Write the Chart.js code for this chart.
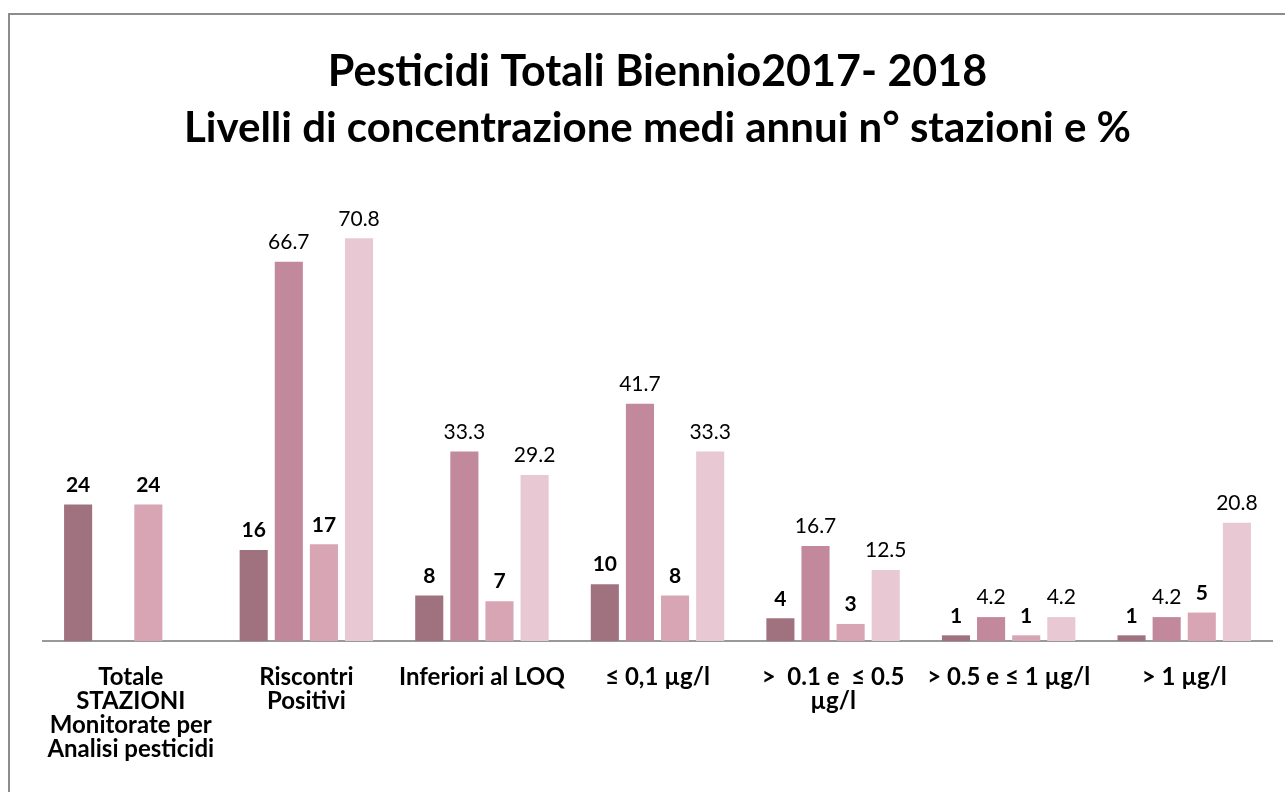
<!DOCTYPE html>
<html lang="it">
<head>
<meta charset="UTF-8">
<title>Pesticidi Totali Biennio 2017-2018</title>
<script src="https://cdn.jsdelivr.net/npm/chart.js"></script>
<style>
  html, body { margin: 0; padding: 0; background: #fff; }
  #wrap { position: relative; width: 1285px; height: 792px; overflow: hidden; }
  #frame { position: absolute; left: 8px; top: 13px; width: 1300px; height: 800px;
           border-left: 2px solid #8c8c8c; border-top: 2px solid #8c8c8c; }
  canvas { position: absolute; left: 0; top: 0; }
</style>
</head>
<body>
<div id="wrap">
  <div id="frame"></div>
  <canvas id="chart" width="1285" height="792"></canvas>
</div>
<script>
const categories = [
  ['Totale', 'STAZIONI', 'Monitorate per', 'Analisi pesticidi'],
  ['Riscontri', 'Positivi'],
  'Inferiori al LOQ',
  '≤ 0,1 µg/l',
  ['>  0.1 e  ≤ 0.5', 'µg/l'],
  '> 0.5 e ≤ 1 µg/l',
  '> 1 µg/l'
];
const stazioni2017 = [24, 16, 8, 10, 4, 1, 1];
const perc2017 = [null, 66.7, 33.3, 41.7, 16.7, 4.2, 4.2];
const stazioni2018 = [24, 17, 7, 8, 3, 1, 5];
const perc2018 = [null, 70.8, 29.2, 33.3, 12.5, 4.2, 20.8];

const FONT = "Lato, 'Open Sans', sans-serif";

// draws the value above each bar; station counts bold, percentages normal
const valueLabels = {
  id: 'valueLabels',
  afterDatasetsDraw(chart) {
    const ctx = chart.ctx;
    chart.data.datasets.forEach((ds, i) => {
      const meta = chart.getDatasetMeta(i);
      meta.data.forEach((bar, j) => {
        const v = ds.data[j];
        if (v === null || v === undefined) return;
        ctx.save();
        ctx.font = (ds.boldLabel ? 'bold ' : '') + '21px ' + FONT;
        ctx.fillStyle = '#000';
        ctx.textAlign = 'center';
        ctx.textBaseline = 'bottom';
        ctx.fillText(ds.boldLabel ? String(v) : v.toFixed(1), bar.x, bar.y - 9);
        ctx.restore();
      });
    });
  }
};

new Chart(document.getElementById('chart'), {
  type: 'bar',
  data: {
    labels: categories,
    datasets: [
      { label: 'n° stazioni 2017', data: stazioni2017, backgroundColor: '#a0727f', boldLabel: true },
      { label: '% 2017', data: perc2017, backgroundColor: '#c2889b', boldLabel: false },
      { label: 'n° stazioni 2018', data: stazioni2018, backgroundColor: '#d8a5b4', boldLabel: true },
      { label: '% 2018', data: perc2018, backgroundColor: '#e8c8d2', boldLabel: false }
    ]
  },
  options: {
    responsive: false,
    animation: false,
    layout: { padding: { left: 43, right: 13, top: 0, bottom: 7 } },
    datasets: { bar: { categoryPercentage: 0.8, barPercentage: 0.8 } },
    plugins: {
      legend: { display: false },
      tooltip: { enabled: false },
      title: {
        display: true,
        text: 'Pesticidi Totali Biennio2017- 2018',
        color: '#000',
        font: { family: FONT, size: 43, weight: 'bold' },
        padding: { top: 46, bottom: 6 }
      },
      subtitle: {
        display: true,
        text: 'Livelli di concentrazione medi annui n° stazioni e %',
        color: '#000',
        font: { family: FONT, size: 42, weight: 'bold' },
        padding: { top: 0, bottom: 32 }
      }
    },
    scales: {
      x: {
        grid: { display: false, drawTicks: false },
        border: { display: true, color: '#999', width: 2 },
        ticks: {
          color: '#000',
          font: { family: FONT, size: 24, weight: 'bold', lineHeight: 1.0 },
          padding: 24,
          maxRotation: 0,
          autoSkip: false
        }
      },
      y: {
        display: false,
        min: 0,
        max: 80
      }
    }
  },
  plugins: [valueLabels]
});
</script>
</body>
</html>
